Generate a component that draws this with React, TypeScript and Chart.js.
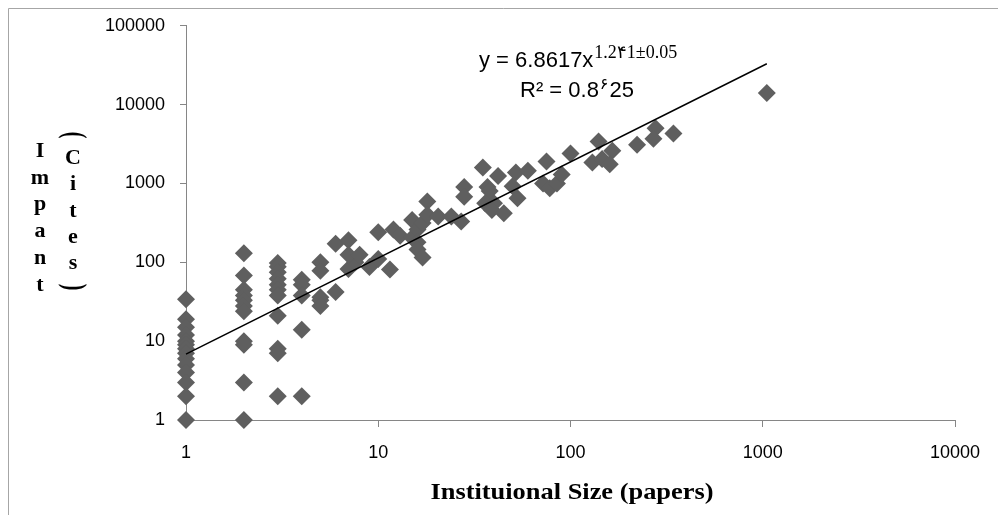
import { useEffect, useRef } from 'react';
import { Chart, registerables } from 'chart.js';

Chart.register(...registerables);

// Institution size (papers) and impact (cites)
const paperCounts = [
  1, 1, 1, 1, 1, 1, 1, 1, 1, 1, 1, 1, 1, 1,
  2, 2, 2, 2, 2, 2, 2, 2, 2, 2, 2,
  3, 3, 3, 3, 3, 3, 3, 3, 3, 3, 3,
  4, 4, 4, 4, 4,
  5, 5, 5, 5, 5,
  6, 6, 7, 7, 7.6, 7, 8, 9, 10, 10, 11.5, 12, 13,
  15, 15, 16, 16, 16, 17, 17, 18, 18, 20.5, 24, 27, 28, 28,
  35, 37, 38, 36, 40, 39, 45, 42, 52, 60, 50, 53,
  75, 72, 78, 85, 90, 100, 130, 140, 146, 165, 160, 222, 277, 270, 343,
  1050,
];
const citeCounts = [
  34, 19, 15, 12, 10, 9, 8, 7, 6, 5, 4, 3, 2, 1,
  130, 68, 45, 38, 33, 28, 24, 10, 9, 3, 1,
  98, 88, 75, 62, 52, 45, 38, 21, 8, 7, 2,
  60, 52, 38, 14, 2,
  100, 78, 36, 33, 28,
  172, 42, 190, 82, 100, 125, 125, 87, 240, 110, 81, 260, 217,
  345, 205, 260, 180, 145, 316, 115, 590, 400, 380, 380, 330, 900, 680,
  1600, 900, 800, 560, 560, 460, 420, 1240, 1380, 1450, 920, 650,
  1900, 1000, 870, 1000, 1300, 2400, 1850, 3400, 2050, 2600, 1750, 3100, 5000, 3700, 4300,
  14000,
];

// Power-law trend line end points
const trendX = [1, 1050];
const trendY = [6.86, 33000];

const xTicks = [1, 10, 100, 1000, 10000];
const yTicks = [1, 10, 100, 1000, 10000, 100000];

const xTitle = 'Instituional Size (papers)';
const yTitleCol1 = ['I', 'm', 'p', 'a', 'n', 't'];
const yTitleCol2 = ['(', 'C', 'i', 't', 'e', 's', ')'];
const eqMain = 'y = 6.8617x';
const eqExp = '1.2\u06F41\u00B10.05';
const rsqA = 'R\u00B2 = 0.8';
const rsqB = '\u06F6';
const rsqC = '25';

const overlay = {
  id: 'overlay',
  afterDraw(chart: any) {
    const ctx = chart.ctx as CanvasRenderingContext2D;
    ctx.save();
    // outer chart border (left and top visible)
    ctx.strokeStyle = '#a6a6a6';
    ctx.lineWidth = 1;
    ctx.beginPath();
    ctx.moveTo(8.5, 515);
    ctx.lineTo(8.5, 8.5);
    ctx.lineTo(998, 8.5);
    ctx.stroke();

    ctx.fillStyle = '#000';
    // y title: stacked letters
    ctx.font = 'bold 22px "Liberation Serif"';
    ctx.textAlign = 'center';
    ctx.textBaseline = 'middle';
    const col1Y = [151, 178, 204, 231, 258, 285];
    yTitleCol1.forEach((ch, i) => ctx.fillText(ch, 40, col1Y[i]));
    const col2Y = [135, 158, 184, 211, 237, 263, 287];
    yTitleCol2.forEach((ch, i) => {
      if (ch === '(' || ch === ')') {
        ctx.save();
        ctx.translate(73, col2Y[i]);
        ctx.rotate(Math.PI / 2);
        ctx.scale(0.9, 1.4);
        ctx.fillText(ch, 0, 0);
        ctx.restore();
      } else {
        ctx.fillText(ch, 73, col2Y[i]);
      }
    });

    // x title
    ctx.save();
    ctx.font = 'bold 24px "Liberation Serif"';
    ctx.translate(572, 493);
    ctx.scale(1.1, 1);
    ctx.fillText(xTitle, 0, 0);
    ctx.restore();

    // equation
    ctx.textAlign = 'left';
    ctx.font = '22px "Liberation Sans"';
    ctx.fillText(eqMain, 479, 61);
    const w1 = ctx.measureText(eqMain).width;
    ctx.font = '18px "Liberation Serif"';
    ctx.fillText(eqExp, 479 + w1 + 1, 53);

    ctx.font = '22px "Liberation Sans"';
    ctx.fillText(rsqA, 520, 91);
    const wa = ctx.measureText(rsqA).width;
    ctx.font = '16px "DejaVu Sans"';
    ctx.fillText(rsqB, 520 + wa + 1, 85);
    const wb = ctx.measureText(rsqB).width;
    ctx.font = '22px "Liberation Sans"';
    ctx.fillText(rsqC, 520 + wa + wb + 2, 91);
    ctx.restore();
  },
};

export default function App() {
  const ref = useRef<HTMLCanvasElement | null>(null);
  useEffect(() => {
    document.body.style.margin = '0';
    const canvas = ref.current;
    if (!canvas) return;
    const points = paperCounts.map((x, i) => ({ x, y: citeCounts[i] }));
    const trend = trendX.map((x, i) => ({ x, y: trendY[i] }));
    const axisColor = '#868686';
    const tickFont = { family: '"Liberation Sans"', size: 18 };
    const chart = new Chart(canvas, {
      type: 'scatter',
      data: {
        datasets: [
          {
            data: trend,
            showLine: true,
            borderColor: '#000',
            borderWidth: 1.5,
            pointRadius: 0,
            clip: false,
            order: 0,
          } as any,
          {
            data: points,
            pointStyle: 'rectRot',
            pointRadius: 9,
            pointHoverRadius: 9,
            backgroundColor: '#5f5f5f',
            borderColor: '#5f5f5f',
            borderWidth: 0,
            clip: false,
            order: 1,
          } as any,
        ],
      },
      options: {
        animation: false,
        responsive: false,
        layout: { padding: { left: 0, right: 43, top: 21, bottom: 0 } },
        plugins: { legend: { display: false }, tooltip: { enabled: false } },
        scales: {
          x: {
            type: 'logarithmic',
            min: 1,
            max: 10000,
            afterBuildTicks: (s: any) => {
              s.ticks = xTicks.map((v) => ({ value: v }));
            },
            afterFit: (s: any) => {
              s.height = 95;
            },
            grid: { drawOnChartArea: false, color: axisColor, tickLength: 7 },
            border: { color: axisColor },
            ticks: {
              font: tickFont,
              color: '#000',
              padding: 15,
              maxRotation: 0,
              autoSkip: false,
              callback: (v: any) => String(v),
            },
          },
          y: {
            type: 'logarithmic',
            min: 1,
            max: 100000,
            afterBuildTicks: (s: any) => {
              s.ticks = yTicks.map((v) => ({ value: v }));
            },
            afterFit: (s: any) => {
              s.width = 186;
            },
            grid: { drawOnChartArea: false, color: axisColor, tickLength: 6 },
            border: { color: axisColor },
            ticks: {
              font: tickFont,
              color: '#000',
              padding: 15,
              autoSkip: false,
              callback: (v: any) => String(v),
            },
          },
        },
      },
      plugins: [overlay],
    });
    return () => chart.destroy();
  }, []);
  return (
    <div style={{ width: 998, height: 515, position: 'relative', background: '#fff' }}>
      <canvas ref={ref} width={998} height={515} style={{ display: 'block' }} />
    </div>
  );
}
